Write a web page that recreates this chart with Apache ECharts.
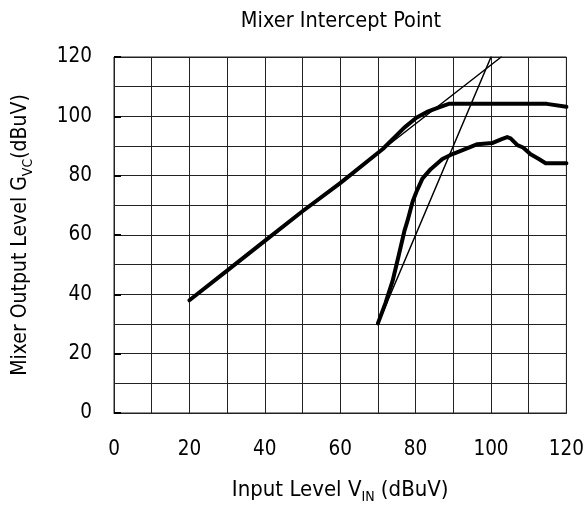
<!DOCTYPE html>
<html>
<head>
<meta charset="utf-8">
<script src="https://cdn.jsdelivr.net/npm/echarts@6/dist/echarts.min.js"></script>
<style>html,body{margin:0;padding:0;background:#fff}#c{width:587px;height:509px}</style>
</head>
<body>
<div id="c"></div>
<script>
// Output level (fundamental), thick curve
var fundX = [20, 30, 40, 50, 60, 71.3, 77, 80.2, 83, 86.2, 88.8, 90, 95, 100, 105, 110, 114.8, 120];
var fundY = [38, 48, 58, 68, 77.5, 89, 96.2, 99.5, 101.5, 103, 104.2, 104.2, 104.2, 104.2, 104.2, 104.2, 104.2, 103.2];
// Intermodulation product, thick curve
var imX = [70, 72, 73.9, 75.5, 77, 77.9, 79.2, 80.2, 81.8, 84, 87.1, 89.8, 93.3, 96.4, 100.3, 103, 104.3, 105.2, 107, 108.5, 110.5, 112.7, 114.5, 117, 120];
var imY = [30.2, 37, 44.5, 53, 61.2, 65, 71.2, 74.5, 79, 82.2, 85.6, 87.3, 89, 90.6, 91, 92.4, 93, 92.6, 90.3, 89.5, 87.2, 85.6, 84.2, 84.2, 84.2];
// Extrapolation lines (thin)
var fundExtX = [20, 102.7];
var fundExtY = [38, 120];
var imExtX = [70, 100];
var imExtY = [30, 120];
// Axis ticks
var xTicks = [0, 20, 40, 60, 80, 100, 120];
var yTicks = [0, 20, 40, 60, 80, 100, 120];

function pairs(xs, ys) { return xs.map(function (x, i) { return [x, ys[i]]; }); }

var FONT = "'DejaVu Sans Condensed', 'DejaVu Sans', sans-serif";
var chart = echarts.init(document.getElementById('c'), null, { renderer: 'canvas' });

var lineSeries = function (data, w) {
  return {
    type: 'line', data: data, symbol: 'none', smooth: false, silent: true,
    lineStyle: { color: '#000', width: w, join: 'round', cap: 'round' }
  };
};

chart.setOption({
  animation: false,
  backgroundColor: '#fff',
  graphic: [{
    type: 'text', x: 341, y: 21,
    style: { text: 'Mixer Intercept Point', align: 'center', verticalAlign: 'middle',
      font: '21.5px ' + FONT, fill: '#000' }
  }],
  grid: { left: 114, right: 19, top: 57, bottom: 92, show: true, borderColor: '#222', borderWidth: 1 },
  xAxis: {
    type: 'value', min: xTicks[0], max: xTicks[xTicks.length - 1], interval: 20,
    name: '{n|Input Level V}{s|IN}{n| (dBuV)}',
    nameLocation: 'middle', nameGap: 63,
    nameTextStyle: { rich: {
      n: { fontFamily: FONT, fontSize: 22, color: '#000', lineHeight: 28 },
      s: { fontFamily: FONT, fontSize: 14, color: '#000', lineHeight: 14, verticalAlign: 'bottom' }
    } },
    axisLine: { show: true, lineStyle: { color: '#222', width: 1 } },
    axisTick: { show: false },
    minorTick: { show: false, splitNumber: 2 },
    splitLine: { show: true, lineStyle: { color: '#222', width: 1 } },
    minorSplitLine: { show: true, lineStyle: { color: '#222', width: 1 } },
    axisLabel: { fontFamily: FONT, fontSize: 20.5, color: '#000', margin: 26,
      formatter: function (v) { return xTicks.indexOf(v) >= 0 ? String(v) : ''; } }
  },
  yAxis: {
    type: 'value', min: yTicks[0], max: yTicks[yTicks.length - 1], interval: 20,
    name: '{n|Mixer Output Level G}{s|VC}{n|(dBuV)}',
    nameLocation: 'middle', nameGap: 79,
    nameTextStyle: { rich: {
      n: { fontFamily: FONT, fontSize: 21, color: '#000', lineHeight: 28 },
      s: { fontFamily: FONT, fontSize: 14, color: '#000', lineHeight: 14, verticalAlign: 'bottom' }
    } },
    axisLine: { show: true, lineStyle: { color: '#222', width: 1 } },
    axisTick: { show: true, inside: true, length: 7, lineStyle: { color: '#000', width: 2 } },
    minorTick: { show: false, splitNumber: 2 },
    splitLine: { show: true, lineStyle: { color: '#222', width: 1 } },
    minorSplitLine: { show: true, lineStyle: { color: '#222', width: 1 } },
    axisLabel: { fontFamily: FONT, fontSize: 20.5, color: '#000', margin: 22,
      formatter: function (v) { return yTicks.indexOf(v) >= 0 ? String(v) : ''; } }
  },
  series: [
    lineSeries(pairs(fundExtX, fundExtY), 1.5),
    lineSeries(pairs(imExtX, imExtY), 1.5),
    lineSeries(pairs(fundX, fundY), 4),
    lineSeries(pairs(imX, imY), 4)
  ]
});
</script>
</body>
</html>
